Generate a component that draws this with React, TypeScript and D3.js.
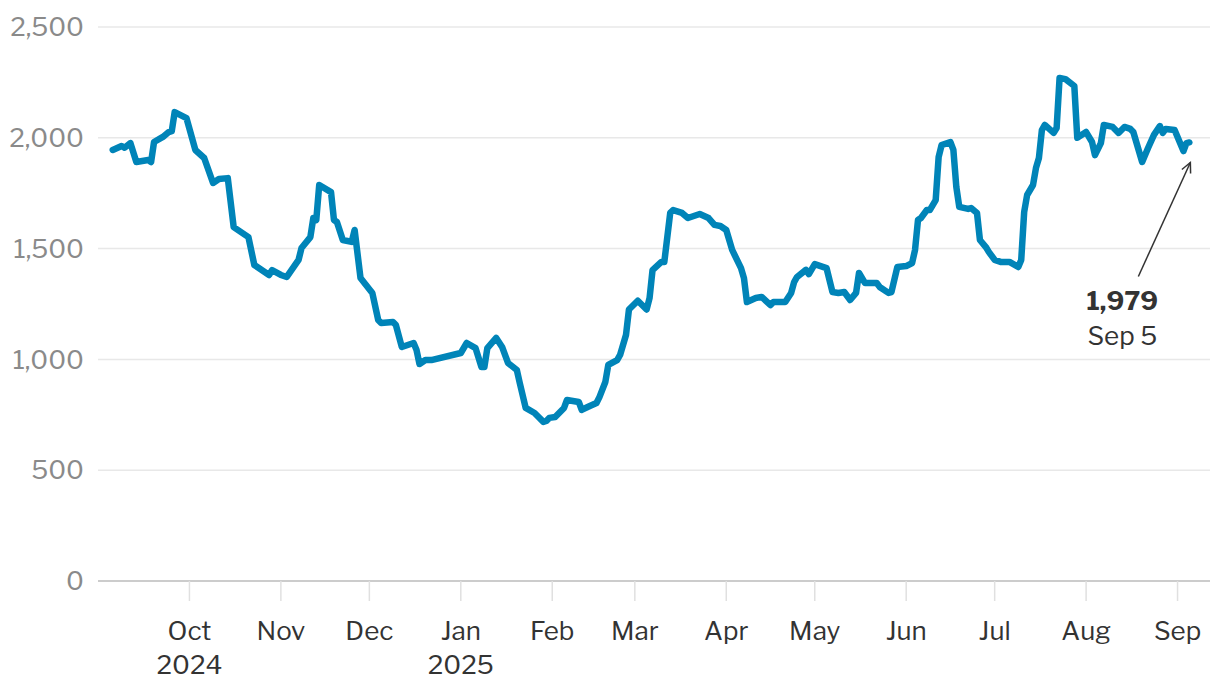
import React from "react";
import * as d3 from "d3";

const dates: string[] = [
  "2024-09-05","2024-09-08","2024-09-09","2024-09-11","2024-09-13","2024-09-17","2024-09-18","2024-09-19",
  "2024-09-22","2024-09-24","2024-09-25","2024-09-26","2024-09-30","2024-10-03","2024-10-06","2024-10-09",
  "2024-10-11","2024-10-14","2024-10-16","2024-10-21","2024-10-23","2024-10-28","2024-10-29","2024-11-01",
  "2024-11-03","2024-11-07","2024-11-08","2024-11-11","2024-11-12","2024-11-13","2024-11-14","2024-11-18",
  "2024-11-19","2024-11-20","2024-11-22","2024-11-25","2024-11-26","2024-11-28","2024-12-02","2024-12-04",
  "2024-12-05","2024-12-09","2024-12-10","2024-12-12","2024-12-16","2024-12-17","2024-12-18","2024-12-20",
  "2024-12-22","2025-01-01","2025-01-03","2025-01-06","2025-01-08","2025-01-09","2025-01-10","2025-01-13",
  "2025-01-15","2025-01-17","2025-01-20","2025-01-21","2025-01-23","2025-01-26","2025-01-29","2025-01-30",
  "2025-01-31","2025-02-02","2025-02-05","2025-02-06","2025-02-10","2025-02-11","2025-02-13","2025-02-16",
  "2025-02-17","2025-02-19","2025-02-20","2025-02-23","2025-02-24","2025-02-26","2025-02-27","2025-03-02",
  "2025-03-05","2025-03-06","2025-03-07","2025-03-10","2025-03-11","2025-03-13","2025-03-14","2025-03-17",
  "2025-03-19","2025-03-21","2025-03-23","2025-03-26","2025-03-28","2025-03-30","2025-04-01","2025-04-03",
  "2025-04-06","2025-04-07","2025-04-08","2025-04-11","2025-04-13","2025-04-16","2025-04-17","2025-04-21",
  "2025-04-23","2025-04-24","2025-04-25","2025-04-28","2025-04-29","2025-05-01","2025-05-05","2025-05-07",
  "2025-05-09","2025-05-11","2025-05-13","2025-05-15","2025-05-16","2025-05-18","2025-05-22","2025-05-23",
  "2025-05-26","2025-05-27","2025-05-29","2025-06-01","2025-06-03","2025-06-04","2025-06-05","2025-06-06",
  "2025-06-08","2025-06-09","2025-06-11","2025-06-12","2025-06-13","2025-06-16","2025-06-17","2025-06-18",
  "2025-06-19","2025-06-22","2025-06-23","2025-06-25","2025-06-26","2025-06-28","2025-06-29","2025-07-01",
  "2025-07-03","2025-07-06","2025-07-09","2025-07-10","2025-07-11","2025-07-12","2025-07-14","2025-07-15",
  "2025-07-16","2025-07-17","2025-07-18","2025-07-21","2025-07-22","2025-07-23","2025-07-25","2025-07-28",
  "2025-07-29","2025-08-01","2025-08-03","2025-08-04","2025-08-06","2025-08-07","2025-08-10","2025-08-12",
  "2025-08-14","2025-08-16","2025-08-17","2025-08-20","2025-08-22","2025-08-24","2025-08-26","2025-08-27",
  "2025-08-28","2025-08-31","2025-09-03","2025-09-04","2025-09-05",
];

const values: number[] = [
  1945,1963,1955,1976,1891,1900,1891,1981,
  2004,2026,2030,2116,2089,1945,1909,1796,
  1814,1818,1597,1552,1426,1381,1403,1381,
  1372,1449,1503,1552,1638,1629,1787,1755,
  1629,1620,1539,1530,1584,1367,1300,1178,
  1164,1169,1155,1056,1074,1042,979,997,
  997,1029,1074,1051,966,966,1051,1097,
  1056,984,952,893,781,758,718,722,
  736,740,781,817,808,772,785,803,
  830,898,975,997,1020,1110,1225,1265,
  1225,1277,1403,1440,1440,1661,1674,1661,
  1638,1647,1656,1638,1607,1602,1584,1494,
  1412,1367,1259,1277,1282,1245,1259,1259,
  1300,1349,1372,1404,1385,1430,1412,1304,
  1300,1304,1268,1300,1390,1345,1345,1327,
  1300,1304,1417,1421,1435,1494,1629,1638,
  1674,1674,1719,1913,1967,1981,1945,1778,
  1688,1679,1683,1661,1539,1507,1485,1449,
  1440,1440,1417,1449,1665,1742,1787,1864,
  1909,2035,2058,2022,2044,2270,2265,2234,
  2000,2026,1981,1922,1976,2058,2049,2022,
  2049,2040,2026,1891,1954,2013,2053,2022,
  2040,2035,1940,1976,1979,
];

const yTicks: number[] = [0, 500, 1000, 1500, 2000, 2500];
const xTickDates: string[] = [
  "2024-10-01","2024-11-01","2024-12-01","2025-01-01","2025-02-01","2025-03-01",
  "2025-04-01","2025-05-01","2025-06-01","2025-07-01","2025-08-01","2025-09-01",
];
const xTickLabels: string[] = ["Oct","Nov","Dec","Jan","Feb","Mar","Apr","May","Jun","Jul","Aug","Sep"];
const xTickYears: string[] = ["2024","","","2025","","","","","","","",""];
const annotationValue = "1,979";
const annotationDate = "Sep 5";

const W = 1220;
const H = 692;
const M = { left: 98, right: 10, top: 27, bottom: 111 };

export default function App() {
  const parse = d3.utcParse("%Y-%m-%d");
  const data = dates.map((d, i) => ({ date: parse(d) as Date, value: values[i] }));

  const x = d3
    .scaleUtc()
    .domain([parse("2024-08-31") as Date, parse("2025-09-12") as Date])
    .range([M.left, W - M.right]);
  const y = d3.scaleLinear().domain([0, 2500]).range([H - M.bottom, M.top]);

  const line = d3
    .line<{ date: Date; value: number }>()
    .x((d) => x(d.date))
    .y((d) => y(d.value))
    .curve(d3.curveLinear);

  const last = data[data.length - 1];
  const lx = x(last.date);
  const ly = y(last.value);
  const font = "'Libre Franklin', 'Inter', 'Roboto', sans-serif";

  // arrow
  const ax1 = lx + 1;
  const ay1 = ly + 20;
  const ax0 = lx - 51;
  const ay0 = ly + 134;
  const ang = Math.atan2(ay1 - ay0, ax1 - ax0);
  const hl = 11;
  const ha = 0.45;
  const head = `M${ax1 - hl * Math.cos(ang - ha)},${ay1 - hl * Math.sin(ang - ha)} L${ax1},${ay1} L${ax1 - hl * Math.cos(ang + ha)},${ay1 - hl * Math.sin(ang + ha)}`;

  return (
    <svg width={W} height={H} style={{ position: "absolute", left: 0, top: 0, background: "#fff" }}>
      <g>
        {yTicks.map((t) => (
          <g key={t}>
            <line
              x1={M.left}
              x2={W - M.right}
              y1={y(t)}
              y2={y(t)}
              stroke={t === 0 ? "#cccccc" : "#e8e8e8"}
              strokeWidth={t === 0 ? 2 : 1.5}
            />
            <text
              x={84}
              y={y(t)}
              dy="0.35em"
              textAnchor="end"
              fontFamily={font}
              fontSize={26}
              fill="#8a8a8a"
            >
              {d3.format(",")(t)}
            </text>
          </g>
        ))}
      </g>
      <g>
        {xTickDates.map((d, i) => {
          const xx = x(parse(d) as Date);
          return (
            <g key={d}>
              <line x1={xx} x2={xx} y1={y(0)} y2={y(0) + 20} stroke="#e0e0e0" strokeWidth={1.5} />
              <text x={xx} y={640} textAnchor="middle" fontFamily={font} fontSize={26} fill="#333">
                {xTickLabels[i]}
              </text>
              {xTickYears[i] && (
                <text x={xx} y={674} textAnchor="middle" fontFamily={font} fontSize={26} fill="#333">
                  {xTickYears[i]}
                </text>
              )}
            </g>
          );
        })}
      </g>
      <path
        d={line(data) || ""}
        fill="none"
        stroke="#0084b8"
        strokeWidth={6.5}
        strokeLinejoin="round"
        strokeLinecap="round"
      />
      <line x1={ax0} y1={ay0} x2={ax1} y2={ay1} stroke="#333" strokeWidth={1.5} />
      <path d={head} fill="none" stroke="#333" strokeWidth={1.5} />
      <text x={lx - 67} y={ly + 168} textAnchor="middle" fontFamily={font} fontSize={26} fontWeight={700} fill="#333">
        {annotationValue}
      </text>
      <text x={lx - 67} y={ly + 203} textAnchor="middle" fontFamily={font} fontSize={26} fill="#333">
        {annotationDate}
      </text>
    </svg>
  );
}
